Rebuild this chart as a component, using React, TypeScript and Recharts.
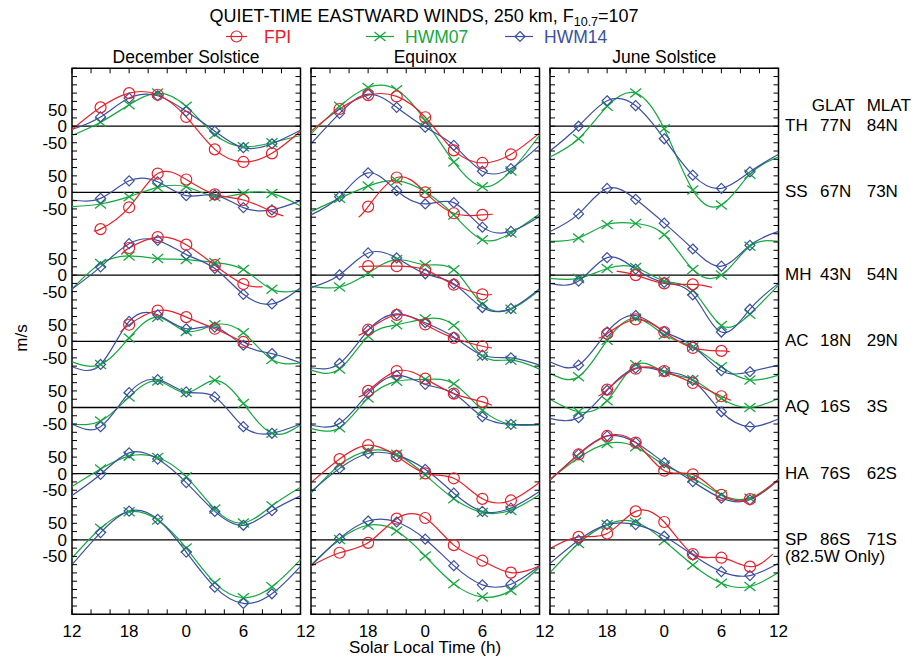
import React from 'react';
import { ComposedChart, Line, XAxis, YAxis, ReferenceLine, ReferenceArea } from 'recharts';

const FONT = '"Liberation Sans", Arial, Helvetica, sans-serif';
const RED = '#E8202A';
const GREEN = '#14A83E';
const BLUE = '#3B4FA2';

// ---------- data ----------
const HOURS = [12, 15, 18, 21, 24, 27, 30, 33, 36];
const X_TICKS = [12, 14, 16, 18, 20, 22, 24, 26, 28, 30, 32, 34, 36];
const X_LABELS: Record<number, string> = { 12: '12', 18: '18', 24: '0', 30: '6', 36: '12' };
const SEASONS = ['December Solstice', 'Equinox', 'June Solstice'];
const STATIONS = ['TH', 'SS', 'MH', 'AC', 'AQ', 'HA', 'SP'];
const GLAT = ['77N', '67N', '43N', '18N', '16S', '76S', '86S'];
const MLAT = ['84N', '73N', '54N', '29N', '3S', '62S', '71S'];
const OFFSETS = [1475, 1275, 1025, 825, 625, 425, 225];
const Y_MAX = 1650;

// December solstice
const DEC_HWM14 = [
  [-10, 28, 85, 92, 45, -15, -65, -53, -12],
  [-23, -18, 35, 32, -10, -8, -46, -53, -25],
  [-42, 25, 95, 105, 62, 20, -58, -87, -38],
  [-77, -70, 60, 80, 38, 43, -12, -37, -65],
  [-50, -58, 45, 84, 47, 32, -58, -78, -50],
  [-66, -2, 63, 44, -27, -114, -156, -112, -67],
  [-75, 22, 87, 62, -37, -143, -192, -163, -80],
];
const DEC_HWM07 = [
  [-28, 12, 65, 100, 60, -25, -62, -50, -28],
  [-43, -35, -13, 15, 17, -13, -3, -3, -41],
  [-42, 35, 58, 50, 47, 38, 17, -43, -45],
  [-62, -70, 10, 73, 30, 50, 26, -55, -65],
  [-50, -41, 32, 80, 45, 82, 12, -78, -53],
  [-39, 14, 53, 49, -9, -107, -149, -97, -41],
  [-55, 35, 85, 60, -25, -130, -175, -142, -60],
];
const DEC_FPI: (number[][] | null)[] = [
  [[12, -10], [15, 57], [18, 100], [21, 95], [24, 28], [27, -70], [30, -108], [33, -82], [36, -15]],
  [[14.3, -115], [15, -111], [18, -45], [21, 57], [24, 39], [27, -6], [30, -23], [33, -58], [34.2, -71]],
  [[17.2, 62], [18, 82], [21, 115], [24, 92], [27, 30], [30, -27], [32, -35]],
  [[17.1, 28], [18, 50], [21, 93], [24, 73], [27, 38], [30, -2], [30.9, -10]],
  null,
  null,
  null,
];

// Equinox
const EQX_HWM14 = [
  [-53, 39, 97, 57, -3, -58, -136, -128, -58],
  [-68, -13, 59, 5, -35, -31, -105, -118, -73],
  [-38, 1, 67, 52, 4, -26, -98, -101, -41],
  [-80, -67, 33, 83, 56, 13, -42, -50, -72],
  [-53, -48, 42, 97, 70, 42, -28, -51, -51],
  [-54, 16, 61, 56, 13, -59, -114, -104, -54],
  [-79, 4, 57, 54, 2, -78, -136, -134, -79],
];
const EQX_HWM07 = [
  [-23, 60, 117, 110, 17, -108, -183, -135, -28],
  [-58, -18, 19, 35, 2, -68, -143, -123, -65],
  [-34, -36, 6, 47, 31, 16, -88, -103, -45],
  [-87, -84, 15, 50, 68, 48, -45, -57, -84],
  [-63, -61, 29, 79, 85, 72, -8, -51, -53],
  [-59, 26, 69, 59, -4, -76, -117, -111, -64],
  [-76, 1, 44, 27, -49, -133, -173, -153, -83],
];
const EQX_FPI: (number[][] | null)[] = [
  [[12, -15], [15, 52], [18, 94], [21, 90], [24, 27], [27, -73], [30, -111], [33, -85], [36, -21]],
  [[17, -75], [18, -43], [21, 45], [24, 0], [27, -63], [30, -68], [31.1, -66]],
  [[17, 24], [18, 27], [21, 27], [24, 16], [27, -29], [30, -58], [31, -58]],
  [[17, 18], [18, 35], [21, 80], [24, 51], [27, 10], [30, -15], [31, -20]],
  [[17, 32], [18, 50], [21, 110], [24, 87], [27, 42], [30, 17], [31, 7]],
  [[12, -27], [15, 44], [18, 86], [21, 53], [24, 1], [27, -14], [30, -76], [33, -81], [36, -27]],
  [[12, -79], [15, -39], [18, -9], [21, 64], [24, 66], [27, -16], [30, -63], [33, -99], [36, -79]],
];

// June solstice
const JUN_HWM14 = [
  [-75, 0, 77, 62, -38, -148, -188, -138, -85],
  [-118, -65, 12, -21, -93, -171, -223, -160, -118],
  [-25, -18, 53, 18, -22, -60, -172, -103, -25],
  [-62, -72, 28, 78, 30, -14, -89, -92, -72],
  [-33, -31, 52, 119, 109, 82, -13, -58, -35],
  [-19, 59, 114, 94, 33, -24, -74, -79, -19],
  [-71, -1, 46, 46, 11, -46, -96, -108, -71],
];
const JUN_HWM07 = [
  [-93, -38, 60, 100, -8, -193, -238, -145, -93],
  [-148, -138, -97, -94, -128, -233, -250, -163, -148],
  [-10, -10, 20, 23, -18, -47, -152, -118, -30],
  [-97, -107, 3, 70, 20, -17, -77, -117, -102],
  [25, -13, 20, 129, 107, 84, 27, 0, 27],
  [-17, 48, 91, 81, 26, -14, -64, -74, -17],
  [-99, -11, 46, 54, -3, -76, -131, -141, -99],
];
const JUN_FPI: (number[][] | null)[] = [
  null,
  null,
  [[19, 12], [21, 0], [24, -25], [27, -28], [29, -37]],
  [[17.1, 10], [18, 23], [21, 66], [24, 28], [27, -20], [30, -29], [30.9, -32]],
  [[17.1, 35], [18, 54], [21, 117], [24, 110], [27, 74], [30, 34], [31, 22]],
  [[12, -19], [15, 58], [18, 114], [21, 94], [24, 9], [27, -2], [30, -64], [33, -77], [36, -17]],
  [[12, -26], [15, 9], [18, 19], [21, 86], [24, 54], [27, -43], [30, -54], [33, -81], [35.4, -43]],
];

// ---------- layout ----------
const PLOT_TOP = 68.3;
const PLOT_H = 546;
const PLOT_BOTTOM = PLOT_TOP + PLOT_H;
const PLOT_W = 228.5;
const PANEL_LEFT = [71.8, 311, 550];
const M_LEFT = 12;
const YAXIS_W = 60;
const LEFT_OFF = M_LEFT + YAXIS_W;
const M_RIGHT = 10;
const CHART_W = LEFT_OFF + PLOT_W + M_RIGHT;
const CHART_H = 662;
const XAXIS_H = 30;
const XLABEL_Y = 636.5;

const Y_TICKS: number[] = [];
for (let v = 0; v <= Y_MAX; v += 25) Y_TICKS.push(v);
const Y_LABELS: Record<number, string> = {};
OFFSETS.forEach((o) => {
  Y_LABELS[o + 50] = '50';
  Y_LABELS[o] = '0';
  Y_LABELS[o - 50] = '-50';
});

const PANELS = [
  { title: SEASONS[0], fpi: DEC_FPI, h07: DEC_HWM07, h14: DEC_HWM14 },
  { title: SEASONS[1], fpi: EQX_FPI, h07: EQX_HWM07, h14: EQX_HWM14 },
  { title: SEASONS[2], fpi: JUN_FPI, h07: JUN_HWM07, h14: JUN_HWM14 },
];

function markerShape(kind: string, cx: number, cy: number, color: string, key?: string) {
  if (kind === 'circle')
    return <circle key={key} cx={cx} cy={cy} r={5.5} fill="none" stroke={color} strokeWidth={1.2} />;
  if (kind === 'x')
    return (
      <path
        key={key}
        d={`M${cx - 5.5},${cy - 4.5}L${cx + 5.5},${cy + 4.5}M${cx - 5.5},${cy + 4.5}L${cx + 5.5},${cy - 4.5}`}
        stroke={color}
        strokeWidth={1.3}
        fill="none"
      />
    );
  return (
    <path
      key={key}
      d={`M${cx},${cy - 5}L${cx + 5},${cy}L${cx},${cy + 5}L${cx - 5},${cy}Z`}
      stroke={color}
      strokeWidth={1.2}
      fill="none"
    />
  );
}

function makeDot(kind: string, color: string) {
  return (p: any) => {
    const key = `d-${p.index}`;
    const t = p.payload ? p.payload.t : null;
    if (p.cx == null || p.cy == null || t == null || t % 3 !== 0 || t < 15 || t > 33) return <g key={key} />;
    return markerShape(kind, p.cx, p.cy, color, key);
  };
}

function Panel({ idx }: { idx: number }) {
  const panel = PANELS[idx];
  const xTick = (p: any) => {
    const x = p.x;
    const v = p.payload.value;
    // the shared "12" between panels is drawn once in the overlay
    const showLbl = (v !== 12 || idx === 0) && (v !== 36 || idx === 2);
    const lbl = showLbl ? X_LABELS[v] : undefined;
    return (
      <g>
        <line x1={x} x2={x} y1={PLOT_BOTTOM} y2={PLOT_BOTTOM - 5} stroke="#000" strokeWidth={1} />
        <line x1={x} x2={x} y1={PLOT_TOP} y2={PLOT_TOP + 5} stroke="#000" strokeWidth={1} />
        {lbl !== undefined && (
          <text x={x} y={XLABEL_Y} textAnchor="middle" fontSize={17} fontFamily={FONT} fill="#000">
            {lbl}
          </text>
        )}
      </g>
    );
  };
  const yTick = (p: any) => {
    const y = p.y;
    const v = p.payload.value;
    const lbl = idx === 0 ? Y_LABELS[v] : undefined;
    return (
      <g>
        <line x1={LEFT_OFF} x2={LEFT_OFF + 5} y1={y} y2={y} stroke="#000" strokeWidth={1} />
        <line x1={LEFT_OFF + PLOT_W} x2={LEFT_OFF + PLOT_W - 5} y1={y} y2={y} stroke="#000" strokeWidth={1} />
        {lbl !== undefined && (
          <text x={LEFT_OFF - 5} y={y + 6} textAnchor="end" fontSize={17} fontFamily={FONT} fill="#000">
            {lbl}
          </text>
        )}
      </g>
    );
  };

  const lines: React.ReactNode[] = [];
  STATIONS.forEach((st, s) => {
    const off = OFFSETS[s];
    const d07 = HOURS.map((t, i) => ({ t, v: panel.h07[s][i] + off }));
    const d14 = HOURS.map((t, i) => ({ t, v: panel.h14[s][i] + off }));
    lines.push(
      <Line
        key={`g-${st}`}
        data={d07}
        dataKey="v"
        type="natural"
        stroke={GREEN}
        strokeWidth={1.2}
        dot={makeDot('x', GREEN)}
        activeDot={false}
        isAnimationActive={false}
      />
    );
    lines.push(
      <Line
        key={`b-${st}`}
        data={d14}
        dataKey="v"
        type="natural"
        stroke={BLUE}
        strokeWidth={1.2}
        dot={makeDot('diamond', BLUE)}
        activeDot={false}
        isAnimationActive={false}
      />
    );
    const f = panel.fpi[s];
    if (f) {
      const df = f.map((pt) => ({ t: pt[0], v: pt[1] + off }));
      lines.push(
        <Line
          key={`r-${st}`}
          data={df}
          dataKey="v"
          type="natural"
          stroke={RED}
          strokeWidth={1.2}
          dot={makeDot('circle', RED)}
          activeDot={false}
          isAnimationActive={false}
        />
      );
    }
  });

  return (
    <div style={{ position: 'absolute', left: PANEL_LEFT[idx] - LEFT_OFF, top: 0, width: CHART_W, height: CHART_H }}>
      <ComposedChart
        width={CHART_W}
        height={CHART_H}
        margin={{ top: PLOT_TOP, right: M_RIGHT, bottom: CHART_H - PLOT_BOTTOM - XAXIS_H, left: M_LEFT }}
      >
        <XAxis
          type="number"
          dataKey="t"
          domain={[12, 36]}
          ticks={X_TICKS}
          interval={0}
          allowDecimals
          height={XAXIS_H}
          axisLine={false}
          tickLine={false}
          tick={xTick}
        />
        <YAxis
          type="number"
          domain={[0, Y_MAX]}
          ticks={Y_TICKS}
          interval={0}
          width={YAXIS_W}
          axisLine={false}
          tickLine={false}
          tick={yTick}
        />
        {OFFSETS.map((o) => (
          <ReferenceLine key={`z-${o}`} y={o} stroke="#000" strokeWidth={1.3} />
        ))}
        {lines}
        <ReferenceArea x1={12} x2={36} y1={0} y2={Y_MAX} fill="none" stroke="#000" strokeWidth={1.5} />
      </ComposedChart>
    </div>
  );
}

function Overlay() {
  const zeroY = OFFSETS.map((o) => PLOT_TOP + ((Y_MAX - o) / Y_MAX) * PLOT_H);
  const t = { fontFamily: FONT, fill: '#000' } as const;
  const shared12 = [
    (PANEL_LEFT[0] + PLOT_W + PANEL_LEFT[1]) / 2,
    (PANEL_LEFT[1] + PLOT_W + PANEL_LEFT[2]) / 2,
  ];
  return (
    <svg
      width={924}
      height={662}
      style={{ position: 'absolute', left: 0, top: 0, pointerEvents: 'none' }}
    >
      <text x={424} y={22} textAnchor="middle" fontSize={18} {...t}>
        QUIET-TIME EASTWARD WINDS, 250 km, F
        <tspan fontSize={12.5} dy={4}>10.7</tspan>
        <tspan dy={-4}>=107</tspan>
      </text>
      {/* legend */}
      <line x1={226} x2={247} y1={36.5} y2={36.5} stroke={RED} strokeWidth={1.2} />
      {markerShape('circle', 236.5, 36.5, RED)}
      <text x={264} y={43} fontSize={17.5} fontFamily={FONT} fill={RED}>FPI</text>
      <line x1={366} x2={394} y1={36.5} y2={36.5} stroke={GREEN} strokeWidth={1.2} />
      {markerShape('x', 380, 36.5, GREEN)}
      <text x={405} y={43} fontSize={17.5} fontFamily={FONT} fill={GREEN}>HWM07</text>
      <line x1={505} x2={533} y1={36.5} y2={36.5} stroke={BLUE} strokeWidth={1.2} />
      {markerShape('diamond', 520, 36.5, BLUE)}
      <text x={544} y={43} fontSize={17.5} fontFamily={FONT} fill={BLUE}>HWM14</text>
      {/* panel titles */}
      {SEASONS.map((s, i) => (
        <text key={s} x={PANEL_LEFT[i] + PLOT_W / 2} y={62.5} textAnchor="middle" fontSize={17.5} {...t}>
          {s}
        </text>
      ))}
      {/* shared x labels between panels */}
      {shared12.map((x, i) => (
        <text key={`s12-${i}`} x={x} y={XLABEL_Y} textAnchor="middle" fontSize={17} {...t}>
          12
        </text>
      ))}
      {/* station labels */}
      <text x={811.7} y={111} fontSize={17} {...t}>GLAT</text>
      <text x={866.7} y={111} fontSize={17} {...t}>MLAT</text>
      {STATIONS.map((s, i) => (
        <g key={s}>
          <text x={785} y={zeroY[i] + 5} fontSize={17} {...t}>{s}</text>
          <text x={820} y={zeroY[i] + 5} fontSize={17} {...t}>{GLAT[i]}</text>
          <text x={866.7} y={zeroY[i] + 5} fontSize={17} {...t}>{MLAT[i]}</text>
        </g>
      ))}
      <text x={785} y={zeroY[6] + 22} fontSize={17} {...t}>(82.5W Only)</text>
      {/* axis titles */}
      <text x={27} y={338} fontSize={17} textAnchor="middle" transform="rotate(-90 27 338)" {...t}>m/s</text>
      <text x={425} y={653} fontSize={17} textAnchor="middle" {...t}>Solar Local Time (h)</text>
    </svg>
  );
}

export default function App() {
  return (
    <div style={{ position: 'absolute', left: 0, top: 0, width: 924, height: 662, background: '#fff' }}>
      <Panel idx={0} />
      <Panel idx={1} />
      <Panel idx={2} />
      <Overlay />
    </div>
  );
}
